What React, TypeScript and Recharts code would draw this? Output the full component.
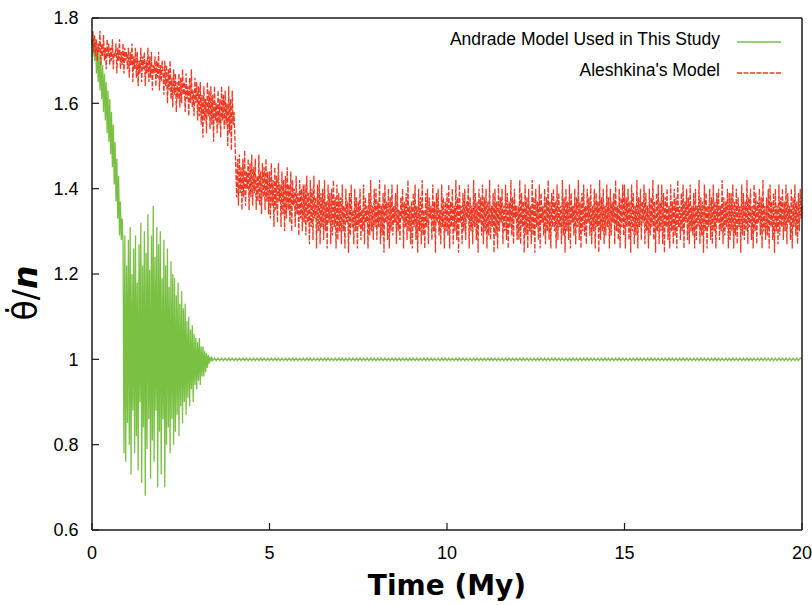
import React from 'react';
import { LineChart, Line, XAxis, YAxis, Legend } from 'recharts';

const seriesNames = ['Andrade Model Used in This Study', "Aleshkina's Model"];
const xTicks = [0, 5, 10, 15, 20];
const yTicks = [0.6, 0.8, 1, 1.2, 1.4, 1.6, 1.8];

// Andrade model, one value every 0.025 My from 0 to 3.375 My
const andradeEarly = [
  1.75, 1.71, 1.76, 1.70, 1.75, 1.67, 1.73, 1.65,
  1.72, 1.63, 1.70, 1.61, 1.69, 1.58, 1.67, 1.56,
  1.65, 1.53, 1.63, 1.51, 1.61, 1.48, 1.58, 1.45,
  1.55, 1.41, 1.51, 1.37, 1.47, 1.33, 1.43, 1.29,
  1.37, 1.28, 1.33, 1.27, 0.78, 1.29, 0.76, 1.22,
  0.85, 1.28, 0.80, 1.31, 0.73, 1.20, 0.88, 1.26,
  0.78, 1.29, 0.82, 1.18, 0.74, 1.27, 0.90, 1.32,
  0.71, 1.22, 0.84, 1.30, 0.68, 1.25, 0.79, 1.34,
  0.86, 1.21, 0.72, 1.29, 0.81, 1.36, 0.76, 1.24,
  0.88, 1.31, 0.70, 1.27, 0.83, 1.30, 0.73, 1.19,
  0.86, 1.28, 0.70, 1.22, 0.80, 1.26, 0.84, 1.17,
  0.78, 1.23, 0.86, 1.20, 0.80, 1.19, 0.83, 1.15,
  0.87, 1.18, 0.82, 1.13, 0.89, 1.16, 0.85, 1.12,
  0.90, 1.13, 0.87, 1.09, 0.91, 1.10, 0.89, 1.07,
  0.93, 1.08, 0.90, 1.06, 0.94, 1.05, 0.93, 1.04,
  0.95, 1.05, 0.94, 1.03, 0.96, 1.03, 0.96, 1.02,
  0.97, 1.015, 0.98, 1.01, 0.99, 1.006, 0.995, 1.004,
];

// Andrade model after it settles, one value every 0.05 My from 3.4 to 20 My
const andradeTail = [
  0.997, 1.003, 0.997, 1.003, 0.997, 1.003, 0.997, 1.003, 0.997, 1.003, 0.997, 1.003, 0.997, 1.003, 0.997, 1.003, 0.997, 1.003, 0.997, 1.003,
  0.997, 1.003, 0.997, 1.003, 0.997, 1.003, 0.997, 1.003, 0.997, 1.003, 0.997, 1.003, 0.997, 1.003, 0.997, 1.003, 0.997, 1.003, 0.997, 1.003,
  0.997, 1.003, 0.997, 1.003, 0.997, 1.003, 0.997, 1.003, 0.997, 1.003, 0.997, 1.003, 0.997, 1.003, 0.997, 1.003, 0.997, 1.003, 0.997, 1.003,
  0.997, 1.003, 0.997, 1.003, 0.997, 1.003, 0.997, 1.003, 0.997, 1.003, 0.997, 1.003, 0.997, 1.003, 0.997, 1.003, 0.997, 1.003, 0.997, 1.003,
  0.997, 1.003, 0.997, 1.003, 0.997, 1.003, 0.997, 1.003, 0.997, 1.003, 0.997, 1.003, 0.997, 1.003, 0.997, 1.003, 0.997, 1.003, 0.997, 1.003,
  0.997, 1.003, 0.997, 1.003, 0.997, 1.003, 0.997, 1.003, 0.997, 1.003, 0.997, 1.003, 0.997, 1.003, 0.997, 1.003, 0.997, 1.003, 0.997, 1.003,
  0.997, 1.003, 0.997, 1.003, 0.997, 1.003, 0.997, 1.003, 0.997, 1.003, 0.997, 1.003, 0.997, 1.003, 0.997, 1.003, 0.997, 1.003, 0.997, 1.003,
  0.997, 1.003, 0.997, 1.003, 0.997, 1.003, 0.997, 1.003, 0.997, 1.003, 0.997, 1.003, 0.997, 1.003, 0.997, 1.003, 0.997, 1.003, 0.997, 1.003,
  0.997, 1.003, 0.997, 1.003, 0.997, 1.003, 0.997, 1.003, 0.997, 1.003, 0.997, 1.003, 0.997, 1.003, 0.997, 1.003, 0.997, 1.003, 0.997, 1.003,
  0.997, 1.003, 0.997, 1.003, 0.997, 1.003, 0.997, 1.003, 0.997, 1.003, 0.997, 1.003, 0.997, 1.003, 0.997, 1.003, 0.997, 1.003, 0.997, 1.003,
  0.997, 1.003, 0.997, 1.003, 0.997, 1.003, 0.997, 1.003, 0.997, 1.003, 0.997, 1.003, 0.997, 1.003, 0.997, 1.003, 0.997, 1.003, 0.997, 1.003,
  0.997, 1.003, 0.997, 1.003, 0.997, 1.003, 0.997, 1.003, 0.997, 1.003, 0.997, 1.003, 0.997, 1.003, 0.997, 1.003, 0.997, 1.003, 0.997, 1.003,
  0.997, 1.003, 0.997, 1.003, 0.997, 1.003, 0.997, 1.003, 0.997, 1.003, 0.997, 1.003, 0.997, 1.003, 0.997, 1.003, 0.997, 1.003, 0.997, 1.003,
  0.997, 1.003, 0.997, 1.003, 0.997, 1.003, 0.997, 1.003, 0.997, 1.003, 0.997, 1.003, 0.997, 1.003, 0.997, 1.003, 0.997, 1.003, 0.997, 1.003,
  0.997, 1.003, 0.997, 1.003, 0.997, 1.003, 0.997, 1.003, 0.997, 1.003, 0.997, 1.003, 0.997, 1.003, 0.997, 1.003, 0.997, 1.003, 0.997, 1.003,
  0.997, 1.003, 0.997, 1.003, 0.997, 1.003, 0.997, 1.003, 0.997, 1.003, 0.997, 1.003, 0.997, 1.003, 0.997, 1.003, 0.997, 1.003, 0.997, 1.003,
  0.997, 1.003, 0.997, 1.003, 0.997, 1.003, 0.997, 1.003, 0.997, 1.003, 0.997, 1.003, 1.0,
];

// Aleshkina's model, one value every 0.025 My from 0 to 20 My (one row per My)
const aleshkina = [
  1.74, 1.77, 1.72, 1.76, 1.71, 1.75, 1.70, 1.74, 1.72, 1.77, 1.69, 1.74, 1.71, 1.76, 1.70, 1.73, 1.68, 1.75, 1.71, 1.74,
  1.69, 1.73, 1.70, 1.75, 1.68, 1.72, 1.71, 1.74, 1.67, 1.73, 1.70, 1.75, 1.68, 1.72, 1.69, 1.74, 1.67, 1.73, 1.70, 1.72,
  1.68, 1.73, 1.66, 1.72, 1.69, 1.74, 1.65, 1.71, 1.68, 1.73, 1.66, 1.72, 1.64, 1.70, 1.67, 1.73, 1.65, 1.71, 1.68, 1.72,
  1.64, 1.70, 1.67, 1.73, 1.65, 1.71, 1.66, 1.72, 1.63, 1.69, 1.67, 1.71, 1.64, 1.70, 1.66, 1.72, 1.63, 1.69, 1.65, 1.70,
  1.67, 1.62, 1.70, 1.64, 1.69, 1.60, 1.68, 1.63, 1.70, 1.61, 1.66, 1.59, 1.68, 1.62, 1.67, 1.58, 1.65, 1.61, 1.67, 1.59,
  1.66, 1.60, 1.68, 1.62, 1.65, 1.58, 1.67, 1.61, 1.64, 1.57, 1.66, 1.60, 1.68, 1.59, 1.63, 1.57, 1.66, 1.60, 1.65, 1.56,
  1.64, 1.57, 1.65, 1.55, 1.62, 1.52, 1.64, 1.56, 1.61, 1.53, 1.65, 1.57, 1.63, 1.54, 1.64, 1.55, 1.62, 1.51, 1.64, 1.56,
  1.60, 1.53, 1.63, 1.55, 1.61, 1.52, 1.64, 1.56, 1.62, 1.54, 1.63, 1.55, 1.60, 1.50, 1.64, 1.53, 1.61, 1.49, 1.63, 1.55,
  1.58, 1.52, 1.45, 1.38, 1.47, 1.36, 1.48, 1.39, 1.45, 1.35, 1.47, 1.38, 1.49, 1.36, 1.44, 1.40, 1.47, 1.35, 1.46, 1.38,
  1.48, 1.36, 1.45, 1.39, 1.47, 1.35, 1.43, 1.37, 1.48, 1.36, 1.44, 1.34, 1.46, 1.38, 1.45, 1.35, 1.47, 1.37, 1.44, 1.34,
  1.44, 1.33, 1.46, 1.36, 1.42, 1.31, 1.45, 1.35, 1.43, 1.32, 1.46, 1.37, 1.41, 1.31, 1.44, 1.34, 1.42, 1.30, 1.43, 1.33,
  1.45, 1.35, 1.41, 1.32, 1.44, 1.30, 1.42, 1.36, 1.40, 1.31, 1.43, 1.34, 1.39, 1.29, 1.42, 1.33, 1.40, 1.30, 1.41, 1.32,
  1.41, 1.29, 1.43, 1.32, 1.39, 1.27, 1.42, 1.31, 1.40, 1.28, 1.43, 1.33, 1.38, 1.26, 1.41, 1.30, 1.42, 1.27, 1.39, 1.31,
  1.40, 1.28, 1.42, 1.30, 1.37, 1.26, 1.41, 1.32, 1.39, 1.27, 1.40, 1.29, 1.42, 1.31, 1.38, 1.26, 1.41, 1.28, 1.39, 1.30,
  1.38, 1.27, 1.41, 1.30, 1.36, 1.26, 1.40, 1.32, 1.37, 1.25, 1.39, 1.29, 1.41, 1.31, 1.35, 1.27, 1.40, 1.30, 1.38, 1.26,
  1.37, 1.31, 1.40, 1.28, 1.35, 1.30, 1.41, 1.27, 1.38, 1.32, 1.36, 1.26, 1.39, 1.29, 1.42, 1.30, 1.36, 1.28, 1.40, 1.31,
  1.40, 1.28, 1.37, 1.31, 1.42, 1.27, 1.36, 1.29, 1.39, 1.25, 1.41, 1.32, 1.37, 1.28, 1.40, 1.26, 1.38, 1.30, 1.41, 1.29,
  1.36, 1.32, 1.39, 1.27, 1.41, 1.30, 1.35, 1.28, 1.38, 1.33, 1.40, 1.26, 1.37, 1.31, 1.39, 1.28, 1.42, 1.30, 1.36, 1.27,
  1.37, 1.26, 1.39, 1.31, 1.41, 1.28, 1.36, 1.25, 1.40, 1.30, 1.38, 1.27, 1.42, 1.29, 1.35, 1.26, 1.39, 1.31, 1.40, 1.27,
  1.38, 1.33, 1.36, 1.28, 1.41, 1.30, 1.37, 1.25, 1.39, 1.32, 1.40, 1.29, 1.35, 1.27, 1.41, 1.31, 1.38, 1.26, 1.37, 1.30,
  1.39, 1.29, 1.41, 1.26, 1.37, 1.31, 1.40, 1.27, 1.36, 1.30, 1.42, 1.28, 1.38, 1.25, 1.41, 1.32, 1.36, 1.27, 1.39, 1.30,
  1.40, 1.28, 1.37, 1.33, 1.41, 1.26, 1.38, 1.30, 1.36, 1.27, 1.42, 1.31, 1.39, 1.28, 1.37, 1.25, 1.40, 1.32, 1.38, 1.29,
  1.41, 1.27, 1.38, 1.30, 1.40, 1.26, 1.37, 1.29, 1.42, 1.28, 1.36, 1.31, 1.39, 1.25, 1.40, 1.29, 1.37, 1.26, 1.41, 1.30,
  1.38, 1.32, 1.40, 1.27, 1.36, 1.30, 1.41, 1.28, 1.39, 1.26, 1.37, 1.31, 1.42, 1.29, 1.38, 1.27, 1.40, 1.33, 1.36, 1.28,
  1.36, 1.28, 1.42, 1.27, 1.39, 1.31, 1.37, 1.25, 1.41, 1.29, 1.38, 1.26, 1.40, 1.30, 1.36, 1.27, 1.42, 1.29, 1.38, 1.25,
  1.40, 1.31, 1.37, 1.28, 1.41, 1.26, 1.39, 1.32, 1.36, 1.29, 1.40, 1.27, 1.38, 1.30, 1.42, 1.28, 1.37, 1.26, 1.39, 1.31,
  1.40, 1.30, 1.37, 1.26, 1.41, 1.28, 1.39, 1.31, 1.36, 1.27, 1.42, 1.29, 1.38, 1.25, 1.40, 1.30, 1.37, 1.28, 1.41, 1.26,
  1.39, 1.32, 1.36, 1.29, 1.40, 1.27, 1.38, 1.31, 1.42, 1.28, 1.37, 1.26, 1.39, 1.30, 1.41, 1.29, 1.36, 1.27, 1.40, 1.32,
  1.38, 1.29, 1.41, 1.27, 1.36, 1.30, 1.40, 1.26, 1.39, 1.31, 1.37, 1.25, 1.42, 1.28, 1.38, 1.30, 1.40, 1.27, 1.36, 1.29,
  1.41, 1.31, 1.38, 1.26, 1.40, 1.29, 1.37, 1.32, 1.39, 1.27, 1.42, 1.30, 1.36, 1.28, 1.40, 1.26, 1.38, 1.31, 1.41, 1.29,
  1.41, 1.26, 1.38, 1.31, 1.40, 1.28, 1.37, 1.25, 1.41, 1.30, 1.39, 1.27, 1.36, 1.29, 1.42, 1.26, 1.38, 1.31, 1.40, 1.28,
  1.37, 1.32, 1.41, 1.27, 1.39, 1.30, 1.36, 1.26, 1.40, 1.29, 1.38, 1.31, 1.42, 1.28, 1.37, 1.25, 1.39, 1.30, 1.41, 1.27,
  1.37, 1.30, 1.41, 1.27, 1.39, 1.25, 1.38, 1.31, 1.40, 1.28, 1.36, 1.26, 1.41, 1.30, 1.37, 1.27, 1.40, 1.29, 1.38, 1.26,
  1.42, 1.31, 1.36, 1.28, 1.39, 1.30, 1.41, 1.26, 1.37, 1.32, 1.40, 1.28, 1.38, 1.27, 1.41, 1.30, 1.36, 1.29, 1.39, 1.26,
  1.40, 1.28, 1.36, 1.31, 1.42, 1.27, 1.38, 1.29, 1.37, 1.25, 1.41, 1.30, 1.39, 1.26, 1.36, 1.31, 1.40, 1.28, 1.38, 1.27,
  1.41, 1.30, 1.37, 1.26, 1.39, 1.32, 1.40, 1.28, 1.36, 1.30, 1.42, 1.27, 1.38, 1.29, 1.37, 1.31, 1.40, 1.26, 1.39, 1.28,
  1.39, 1.30, 1.41, 1.26, 1.37, 1.29, 1.40, 1.27, 1.38, 1.31, 1.36, 1.25, 1.41, 1.29, 1.39, 1.28, 1.37, 1.30, 1.42, 1.27,
  1.38, 1.31, 1.40, 1.28, 1.36, 1.26, 1.41, 1.30, 1.39, 1.27, 1.37, 1.32, 1.40, 1.29, 1.38, 1.26, 1.42, 1.30, 1.36, 1.28,
  1.38, 1.29, 1.40, 1.26, 1.41, 1.31, 1.37, 1.28, 1.39, 1.25, 1.40, 1.30, 1.36, 1.27, 1.41, 1.29, 1.38, 1.31, 1.40, 1.28,
  1.37, 1.30, 1.41, 1.27, 1.39, 1.32, 1.36, 1.28, 1.40, 1.26, 1.38, 1.31, 1.41, 1.29, 1.37, 1.27, 1.39, 1.30, 1.40, 1.33,
  1.36,
];

const andradeData = [
  ...andradeEarly.map((v, i) => ({ t: +(i * 0.025).toFixed(3), v })),
  ...andradeTail.map((v, i) => ({ t: +(3.4 + i * 0.05).toFixed(3), v })),
];
const aleshkinaData = aleshkina.map((v, i) => ({ t: +(i * 0.025).toFixed(3), v }));

const GREEN = '#79c043';
const RED = '#ee3a24';
const FRAME = '#1a1a1a';
const TICK_FONT = '"Liberation Sans", Arial, sans-serif';
const TITLE_FONT = '"DejaVu Sans", Verdana, sans-serif';

const XTick = (props: any) => {
  const { x, y, payload } = props;
  return (
    <g>
      <line x1={x} x2={x} y1={y} y2={y - 7} stroke={FRAME} strokeWidth={1.2} />
      <text x={x} y={y + 28.5} textAnchor="middle" fontFamily={TICK_FONT} fontSize={18} fill="#000">
        {payload.value}
      </text>
    </g>
  );
};

const YTick = (props: any) => {
  const { x, y, payload } = props;
  return (
    <g>
      <line x1={x} x2={x + 7} y1={y} y2={y} stroke={FRAME} strokeWidth={1.2} />
      <text x={x - 13.5} y={y + 6.4} textAnchor="end" fontFamily={TICK_FONT} fontSize={18} fill="#000">
        {payload.value}
      </text>
    </g>
  );
};

// mirrored axes only show their tick marks
const NoLabel = () => <g />;

const XTitle = (props: any) => {
  const vb = props.viewBox;
  return (
    <text
      x={vb.x + vb.width / 2}
      y={vb.y + 65}
      textAnchor="middle"
      fontFamily={TITLE_FONT}
      fontWeight="bold"
      fontSize={28}
      fill="#000"
    >
      Time (My)
    </text>
  );
};

const YTitle = (props: any) => {
  const vb = props.viewBox;
  const cx = vb.x + 37;
  const cy = vb.y + vb.height / 2 + 19;
  return (
    <text
      x={cx}
      y={cy}
      transform={`rotate(-90 ${cx} ${cy})`}
      textAnchor="middle"
      fontFamily={TITLE_FONT}
      fontSize={33}
      fill="#000"
    >
      {'\u03b8\u0307/'}
      <tspan fontWeight="bold" fontStyle="italic">n</tspan>
    </text>
  );
};

const renderLegend = (props: any) => {
  const items = [...(props.payload || [])].sort(
    (a: any, b: any) => seriesNames.indexOf(a.value) - seriesNames.indexOf(b.value),
  );
  return (
    <div style={{ fontFamily: TICK_FONT, fontSize: 17.5, color: '#000' }}>
      {items.map((entry: any) => (
        <div
          key={entry.value}
          style={{ display: 'flex', alignItems: 'center', justifyContent: 'flex-end', height: 31 }}
        >
          <span>{entry.value}</span>
          <svg width={44} height={10} style={{ marginLeft: 17, marginTop: 4 }}>
            <line
              x1={0}
              x2={44}
              y1={5}
              y2={5}
              stroke={entry.color}
              strokeWidth={1.6}
              strokeDasharray={entry.payload && entry.payload.strokeDasharray}
            />
          </svg>
        </div>
      ))}
    </div>
  );
};

const App: React.FC = () => {
  return (
    <div style={{ position: 'absolute', left: 0, top: 0, width: 812, height: 605, background: '#fff' }}>
      <LineChart width={812} height={605} margin={{ top: 18, right: 10, bottom: 0, left: 0 }}>
        <XAxis
          dataKey="t"
          type="number"
          domain={[0, 20]}
          ticks={xTicks}
          interval={0}
          height={75}
          tickSize={0}
          tickMargin={0}
          tick={<XTick />}
          axisLine={{ stroke: FRAME, strokeWidth: 1.5 }}
          label={XTitle}
        />
        <XAxis
          xAxisId="top"
          orientation="top"
          type="number"
          domain={[0, 20]}
          ticks={xTicks}
          interval={0}
          mirror
          tick={<NoLabel />}
          tickSize={7}
          tickLine={{ stroke: FRAME, strokeWidth: 1.2 }}
          axisLine={{ stroke: FRAME, strokeWidth: 1.5 }}
        />
        <YAxis
          type="number"
          domain={[0.6, 1.8]}
          ticks={yTicks}
          interval={0}
          width={92}
          tickSize={0}
          tickMargin={0}
          tick={<YTick />}
          axisLine={{ stroke: FRAME, strokeWidth: 1.5 }}
          label={YTitle}
        />
        <YAxis
          yAxisId="right"
          orientation="right"
          type="number"
          domain={[0.6, 1.8]}
          ticks={yTicks}
          interval={0}
          mirror
          tick={<NoLabel />}
          tickSize={7}
          tickLine={{ stroke: FRAME, strokeWidth: 1.2 }}
          axisLine={{ stroke: FRAME, strokeWidth: 1.5 }}
        />
        <Legend
          layout="vertical"
          align="center"
          verticalAlign="middle"
          content={renderLegend}
          wrapperStyle={{ top: 24, left: 381, width: 400 }}
        />
        <Line
          data={andradeData}
          dataKey="v"
          name={seriesNames[0]}
          stroke={GREEN}
          strokeWidth={1.3}
          dot={false}
          activeDot={false}
          isAnimationActive={false}
        />
        <Line
          data={aleshkinaData}
          dataKey="v"
          name={seriesNames[1]}
          stroke={RED}
          strokeWidth={1.3}
          strokeDasharray="5 1.5"
          dot={false}
          activeDot={false}
          isAnimationActive={false}
        />
      </LineChart>
    </div>
  );
};

export default App;
